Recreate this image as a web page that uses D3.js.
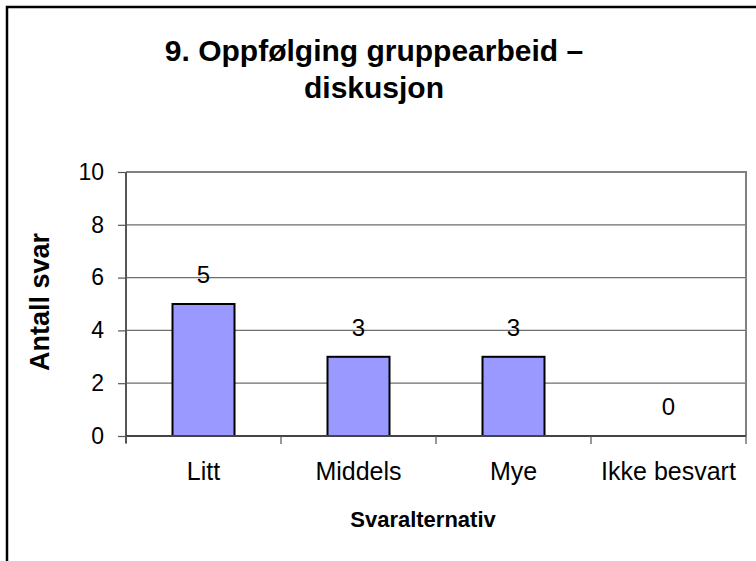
<!DOCTYPE html>
<html lang="no">
    <head>
        <meta charset="utf-8">
        <title>9. Oppfølging gruppearbeid – diskusjon</title>
        <script type="text/javascript" src="https://cdn.jsdelivr.net/npm/d3@7/dist/d3.min.js"></script>
        <style>
            body { margin: 0; background: #fff; }
            text { font-family: "Liberation Sans", Arial, sans-serif; fill: #000; }
        </style>
    </head>
    <body>
        <script type="text/javascript">
            // data
            var categories = ["Litt", "Middels", "Mye", "Ikke besvart"];
            var values = [5, 3, 3, 0];
            var yTicks = [0, 2, 4, 6, 8, 10];
            var titleLines = ["9. Oppfølging gruppearbeid –", "diskusjon"];

            var w = 756;
            var h = 561;
            var plot = { left: 126, right: 746, top: 172, bottom: 436 };

            var svg = d3.select("body")
                        .append("svg")
                        .attr("width", w)
                        .attr("height", h);

            svg.append("rect")
               .attr("width", w).attr("height", h)
               .attr("fill", "#fff");

            // outer chart frame (right/bottom edges fall outside the picture)
            svg.append("rect")
               .attr("x", 7).attr("y", 7)
               .attr("width", w + 20).attr("height", h + 20)
               .attr("fill", "none")
               .attr("stroke", "#000")
               .attr("stroke-width", 2.5);

            var xScale = d3.scaleBand()
                           .domain(categories)
                           .range([plot.left, plot.right])
                           .paddingInner(0.6)
                           .paddingOuter(0.3);

            var yScale = d3.scaleLinear()
                           .domain([0, 10])
                           .range([plot.bottom, plot.top]);

            // gridlines
            svg.append("g")
               .selectAll("line")
               .data(yTicks.filter(function(d) { return d > 0; }))
               .enter()
               .append("line")
               .attr("x1", plot.left).attr("x2", plot.right)
               .attr("y1", function(d) { return yScale(d); })
               .attr("y2", function(d) { return yScale(d); })
               .attr("stroke", "#6e6e6e")
               .attr("stroke-width", 1.2);

            // plot area border top/right
            svg.append("path")
               .attr("d", "M" + plot.left + "," + plot.top + "H" + plot.right + "V" + plot.bottom)
               .attr("fill", "none")
               .attr("stroke", "#808080")
               .attr("stroke-width", 2);

            // bars
            svg.append("g")
               .selectAll("rect")
               .data(values)
               .enter()
               .append("rect")
               .attr("x", function(d, i) { return xScale(categories[i]); })
               .attr("y", function(d) { return yScale(d); })
               .attr("width", xScale.bandwidth())
               .attr("height", function(d) { return yScale(0) - yScale(d); })
               .attr("fill", function(d) { return d > 0 ? "#9999ff" : "none"; })
               .attr("stroke", function(d) { return d > 0 ? "#000" : "none"; })
               .attr("stroke-width", 2);

            // value labels
            svg.append("g")
               .selectAll("text")
               .data(values)
               .enter()
               .append("text")
               .attr("x", function(d, i) { return xScale(categories[i]) + xScale.bandwidth() / 2; })
               .attr("y", function(d) { return yScale(d) - 21; })
               .attr("text-anchor", "middle")
               .attr("font-size", "24px")
               .text(function(d) { return d; });

            // y axis
            var yAxis = d3.axisLeft(yScale)
                          .tickValues(yTicks)
                          .tickSize(8)
                          .tickPadding(14);
            var gy = svg.append("g")
               .attr("transform", "translate(" + plot.left + ",0)")
               .call(yAxis);
            gy.select(".domain").attr("stroke", "#555").attr("stroke-width", 2)
              .attr("d", "M0," + (plot.top) + "V" + (plot.bottom + 7));
            gy.selectAll(".tick line").attr("stroke", "#555").attr("stroke-width", 1.2);
            gy.selectAll(".tick text")
              .attr("font-size", "23px")
              .attr("font-family", "Liberation Sans, Arial, sans-serif")
              .attr("fill", "#000");

            // x axis
            var xAxis = d3.axisBottom(xScale).tickSize(0).tickPadding(0);
            var gx = svg.append("g")
               .attr("transform", "translate(0," + plot.bottom + ")")
               .call(xAxis);
            gx.select(".domain").attr("stroke", "#444").attr("stroke-width", 2)
              .attr("d", "M" + plot.left + ",0H" + plot.right);
            gx.selectAll(".tick text")
              .attr("y", 44)
              .attr("dy", null)
              .attr("font-size", "25px")
              .attr("font-family", "Liberation Sans, Arial, sans-serif")
              .attr("fill", "#000");

            // category boundary ticks
            var bounds = categories.map(function(c) { return xScale(c) - xScale.step() * xScale.paddingInner() / 2; });
            bounds.push(plot.right);
            svg.append("g")
               .selectAll("line")
               .data(bounds)
               .enter()
               .append("line")
               .attr("x1", function(d) { return d; }).attr("x2", function(d) { return d; })
               .attr("y1", plot.bottom).attr("y2", plot.bottom + 8)
               .attr("stroke", "#555")
               .attr("stroke-width", 1.2);

            // title
            svg.append("g")
               .selectAll("text")
               .data(titleLines)
               .enter()
               .append("text")
               .attr("x", 374)
               .attr("y", function(d, i) { return 61 + i * 37; })
               .attr("text-anchor", "middle")
               .attr("font-size", "30px")
               .attr("font-weight", "bold")
               .text(function(d) { return d; });

            // axis titles
            svg.append("text")
               .attr("x", 423)
               .attr("y", 527)
               .attr("text-anchor", "middle")
               .attr("font-size", "22px")
               .attr("font-weight", "bold")
               .text("Svaralternativ");

            svg.append("text")
               .attr("transform", "translate(49,302) rotate(-90)")
               .attr("text-anchor", "middle")
               .attr("font-size", "27px")
               .attr("font-weight", "bold")
               .text("Antall svar");
        </script>
    </body>
</html>
